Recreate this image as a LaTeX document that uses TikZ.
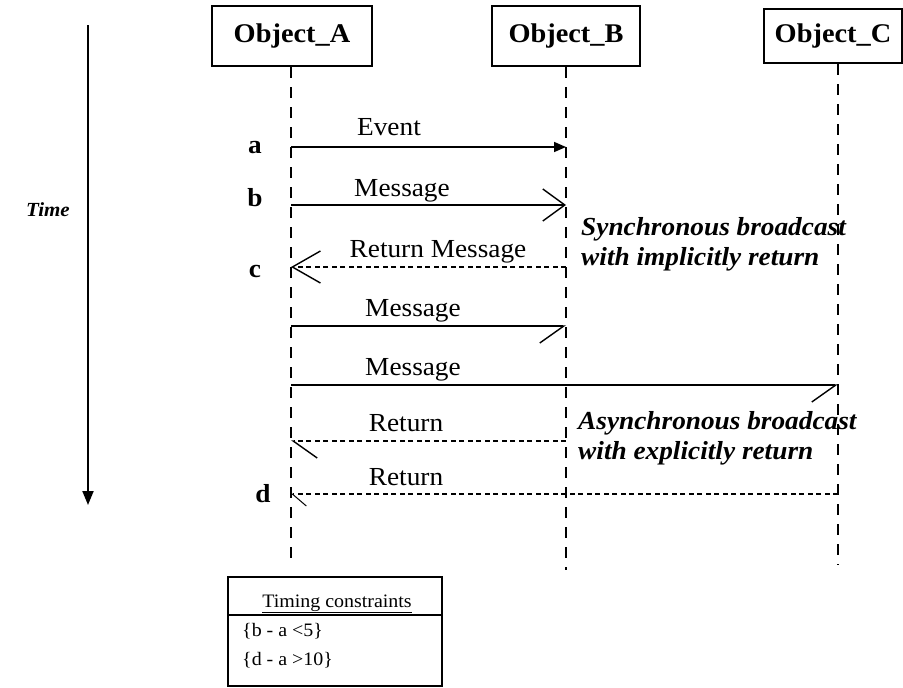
\documentclass[tikz,border=0pt]{standalone}
\usepackage{fontspec}
\setmainfont{Liberation Serif}[FakeStretch=1.05]
\usetikzlibrary{arrows.meta}

\begin{document}
\begin{tikzpicture}[x=1pt,y=-1pt,
  objbox/.style={draw,line width=2pt,inner sep=0pt,
    font=\fontsize{27}{30}\selectfont\bfseries},
  lifeline/.style={line width=2.3pt,dash pattern=on 11pt off 9pt},
  msg/.style={line width=1.6pt},
  ret/.style={line width=1.4pt,dash pattern=on 5pt off 3.5pt},
  lbl/.style={font=\fontsize{26}{30}\selectfont,inner sep=0pt,anchor=base},
  tag/.style={font=\fontsize{26}{30}\selectfont\bfseries,inner sep=0pt,anchor=base},
  note/.style={font=\fontsize{26}{30}\selectfont\bfseries\itshape,align=left,
    inner sep=0pt,anchor=base west},
  small/.style={font=\fontsize{19}{22}\selectfont,inner sep=0pt},
  filledtip/.style={-{Triangle[length=12pt,width=10pt]}},
  opentip/.style={-{Straight Barb[length=#1,width=32pt,line width=1.4pt]}},
  halftip/.style={-{Straight Barb[#1,length=24pt,width=34pt,line width=1.4pt]}},
]
\useasboundingbox (0,0) rectangle (903,688);

% objects
\node[objbox,minimum width=160pt,minimum height=60pt] (objA) at (292,36) {Object\_A};
\node[objbox,minimum width=148pt,minimum height=60pt] (objB) at (566,36) {Object\_B};
\node[objbox,minimum width=138pt,minimum height=54pt] (objC) at (833,36) {Object\_C};

% lifeline ends
\coordinate (endA) at (291,565);
\coordinate (endB) at (566,570);
\coordinate (endC) at (838,565);
\draw[lifeline] (objA.south -| endA) -- (endA);
\draw[lifeline] (objB.south) -- (endB);
\draw[lifeline] (objC.south -| endC) -- (endC);

% message end points on the lifelines
\foreach \n/\y in {1/147,2/205,3/267,4/326,5/385,6/441,7/494}{
  \coordinate (A\n) at (291,\y);
  \coordinate (B\n) at (566,\y);
  \coordinate (C\n) at (838,\y);
}

% messages
\draw[msg,filledtip] (A1) -- (B1);
\draw[msg,opentip=22pt] (A2) -- (B2);
\draw[ret,opentip=28pt] (B3) -- (A3);
\draw[msg,halftip=right] (A4) -- (B4);
\draw[msg,halftip=right] (A5) -- (C5);
\draw[ret,halftip=left] (B6) -- (A6);
\draw[ret,-{Straight Barb[left,length=14pt,width=24pt,line width=1pt]}] (C7) -- (A7);

% message labels
\node[lbl] (lEvent) at (389,135) {Event};
\node[lbl] (lMsg1) at (402,196) {Message};
\node[lbl] (lRetMsg) at (438,257) {Return Message};
\node[lbl] (lMsg2) at (413,316) {Message};
\node[lbl] (lMsg3) at (413,375) {Message};
\node[lbl] (lRet1) at (406,431) {Return};
\node[lbl] (lRet2) at (406,485) {Return};

% time points
\node[tag] (ta) at (255,153) {a};
\node[tag] (tb) at (255,206) {b};
\node[tag] (tc) at (255,277) {c};
\node[tag] (td) at (263,502) {d};

% broadcast notes (anchored at the baseline of the last line)
\node[note] (sync) at (581,265) {Synchronous broadcast\\with implicitly return};
\node[note] (async) at (578,459) {Asynchronous broadcast\\with explicitly return};

% time axis
\node[font=\fontsize{20}{24}\selectfont\bfseries\itshape,inner sep=0pt,anchor=base]
  (time) at (48,216) {Time};
\coordinate (tStart) at (88,25);
\coordinate (tEnd) at (88,505);
\draw[line width=2pt,-{Triangle[length=14pt,width=11pt]}] (tStart) -- (tEnd);

% timing constraints box
\node[draw,line width=1.4pt,minimum width=214pt,minimum height=109pt,inner sep=0pt]
  (tcbox) at (335,631.5) {};
\coordinate (divL) at (228,615);
\coordinate (divR) at (442,615);
\draw[line width=1.4pt] (divL) -- (divR);
\node[small,anchor=base] (tctitle) at (337,607) {\underline{Timing constraints}};
\node[small,anchor=base west] (tc1) at (242,636) {\{b - a <5\}};
\node[small,anchor=base west] (tc2) at (242,665) {\{d - a >10\}};
\end{tikzpicture}
\end{document}
